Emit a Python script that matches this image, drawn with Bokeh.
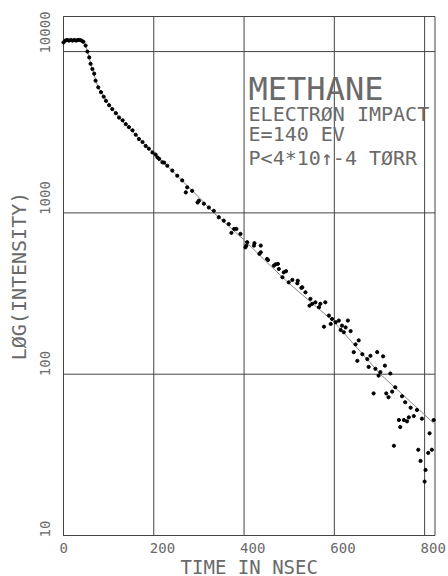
from math import pi, log10
from bokeh.plotting import figure
from bokeh.models import Range1d
from bokeh.core.properties import value
from bokeh.embed import file_html
from bokeh.resources import INLINE

# ---- data (time in ns, intensity counts) ----
time_ns = [0, 4, 8, 12, 16, 20, 24, 28, 32, 36, 40, 44, 49, 53, 57, 60, 64, 68, 71, 77,
           83, 89, 94, 101, 108, 116, 123, 131, 138, 145, 153, 160, 167, 175, 182, 189,
           197, 204, 208, 212, 219, 223, 230, 241, 252, 263, 271, 274, 285, 297, 300,
           311, 322, 333, 344, 355, 366, 372, 378, 383, 392, 403, 405, 407, 422, 423,
           434, 437, 437, 451, 453, 466, 470, 475, 477, 485, 488, 493, 499, 507, 518,
           519, 527, 529, 536, 545, 547, 551, 558, 566, 569, 577, 580, 588, 592, 595,
           603, 610, 614, 617, 621, 625, 630, 636, 643, 647, 651, 654, 662, 673, 676,
           680, 687, 691, 695, 698, 702, 708, 712, 715, 720, 724, 728, 732, 735, 743,
           746, 750, 754, 757, 761, 765, 769, 776, 783, 786, 791, 794, 800, 802, 808,
           811, 816, 820]
intensity = [11400, 11700, 11800, 11700, 11800, 11700, 11800, 11700, 11800, 11800, 11700,
             11500, 10900, 10000, 9200, 8400, 7800, 7300, 6600, 6000, 5600, 5250, 4950,
             4650, 4400, 4150, 3900, 3750, 3550, 3400, 3250, 3050, 2870, 2750, 2600, 2500,
             2370, 2300, 2210, 2160, 2060, 2050, 1960, 1830, 1700, 1590, 1340, 1440, 1370,
             1160, 1190, 1140, 1080, 1030, 940, 895, 853, 752, 795, 795, 741, 612, 627,
             658, 627, 649, 557, 570, 627, 518, 511, 471, 480, 483, 449, 399, 428, 435,
             371, 384, 366, 380, 343, 346, 322, 266, 293, 273, 279, 260, 273, 197, 279,
             231, 205, 220, 210, 215, 188, 200, 182, 195, 215, 185, 137, 153, 121, 162,
             133, 124, 111, 130, 76, 108, 137, 98, 103, 129, 113, 76, 72, 101, 78, 36, 83,
             52, 47, 73, 52, 67, 51, 54, 62, 55, 60, 34, 29, 53, 21.6, 25.5, 32.5, 43, 34,
             52]

fit_time = [48, 53, 57, 60, 64, 68, 71, 77, 83, 90, 100, 110, 125, 140, 160, 180, 200,
            250, 300, 333, 400, 458, 500, 600, 702, 760, 820]
fit_intensity = [11200, 10000, 9200, 8400, 7800, 7250, 6650, 6000, 5600, 5250, 4750, 4350,
                 3850, 3450, 3050, 2650, 2350, 1720, 1250, 1000, 680, 471, 365, 210, 100,
                 71, 49.7]

x_ticks = [0, 200, 400, 600, 800]
x_tick_labels = ["0", "200", "400", "600", "800"]
y_ticks = [10, 100, 1000, 10000]
y_tick_labels = ["10", "100", "1000", "10000"]
x_title = "TIME IN NSEC"
y_title = "LØG(INTENSITY)"
note_lines = ["METHANE", "ELECTRØN IMPACT", "E=140 EV", "P<4*10↑-4 TØRR"]
note_y = [5900, 4130, 3100, 2200]
note_sizes = ["32px", "20px", "20px", "20px"]
note_x = 410

# data limits of the plot box
x0, x1 = 0, 823
y0, y1 = 10, 16500

# ---- layout (pixels on the canvas) ----
W, H = 448, 576
L, R, T, B = 63, 434.5, 16, 535
xr = (x1 - x0) / (R - L)                     # data units per pixel
dd = (log10(y1) - log10(y0)) / (B - T)       # decades per pixel


def X(px):
    return x0 + (px - L) * xr


def Y(py):
    return 10 ** (log10(y0) + (B - py) * dd)


FONT = "DejaVu Sans Mono"
TXT = "#6a6a6a"
GRID = "#444444"

p = figure(width=W, height=H, x_range=Range1d(X(0), X(W)), y_range=Range1d(Y(H), Y(0)),
           y_axis_type="log", output_backend="svg", toolbar_location=None,
           min_border=0)
p.xaxis.visible = False
p.yaxis.visible = False
p.xgrid.visible = False
p.ygrid.visible = False
p.outline_line_color = None
p.background_fill_color = "white"
p.border_fill_color = "white"

# grid lines and plot box
p.segment(x0=x_ticks, y0=[y0] * len(x_ticks), x1=x_ticks, y1=[y1] * len(x_ticks),
          line_color=GRID, line_width=1)
p.segment(x0=[x0] * len(y_ticks), y0=y_ticks, x1=[x1] * len(y_ticks), y1=y_ticks,
          line_color=GRID, line_width=1)
p.quad(left=[x0], right=[x1], bottom=[y0], top=[y1], fill_color=None,
       line_color=GRID, line_width=1)

# data
p.line(fit_time, fit_intensity, line_color="#888888", line_width=1)
p.scatter(time_ns, intensity, size=3.2, color="black")

# tick labels
p.text(x=[t - 4 * xr for t in x_ticks], y=[Y(547)] * len(x_ticks), text=x_tick_labels,
       text_font=value(FONT), text_font_size="14px", text_color=TXT,
       text_align="left", text_baseline="middle")
p.text(x=[X(44)] * len(y_ticks), y=[t * 10 ** (-2 * dd) for t in y_ticks],
       text=y_tick_labels, angle=pi / 2,
       text_font=value(FONT), text_font_size="14px", text_color=TXT,
       text_align="left", text_baseline="middle")

# axis titles
p.text(x=[(x0 + x1) / 2], y=[Y(566)], text=[x_title],
       text_font=value(FONT), text_font_size="19px", text_color=TXT,
       text_align="center", text_baseline="middle")
p.text(x=[X(18)], y=[(y0 * y1) ** 0.5], text=[y_title], angle=pi / 2,
       text_font=value(FONT), text_font_size="20px", text_color=TXT,
       text_align="center", text_baseline="middle")

# annotation block
for line, yy, fs in zip(note_lines, note_y, note_sizes):
    p.text(x=[note_x], y=[yy], text=[line], text_font=value(FONT), text_font_size=fs,
           text_color=TXT, text_align="left", text_baseline="alphabetic")

open("out.html", "w").write(file_html(p, INLINE))
